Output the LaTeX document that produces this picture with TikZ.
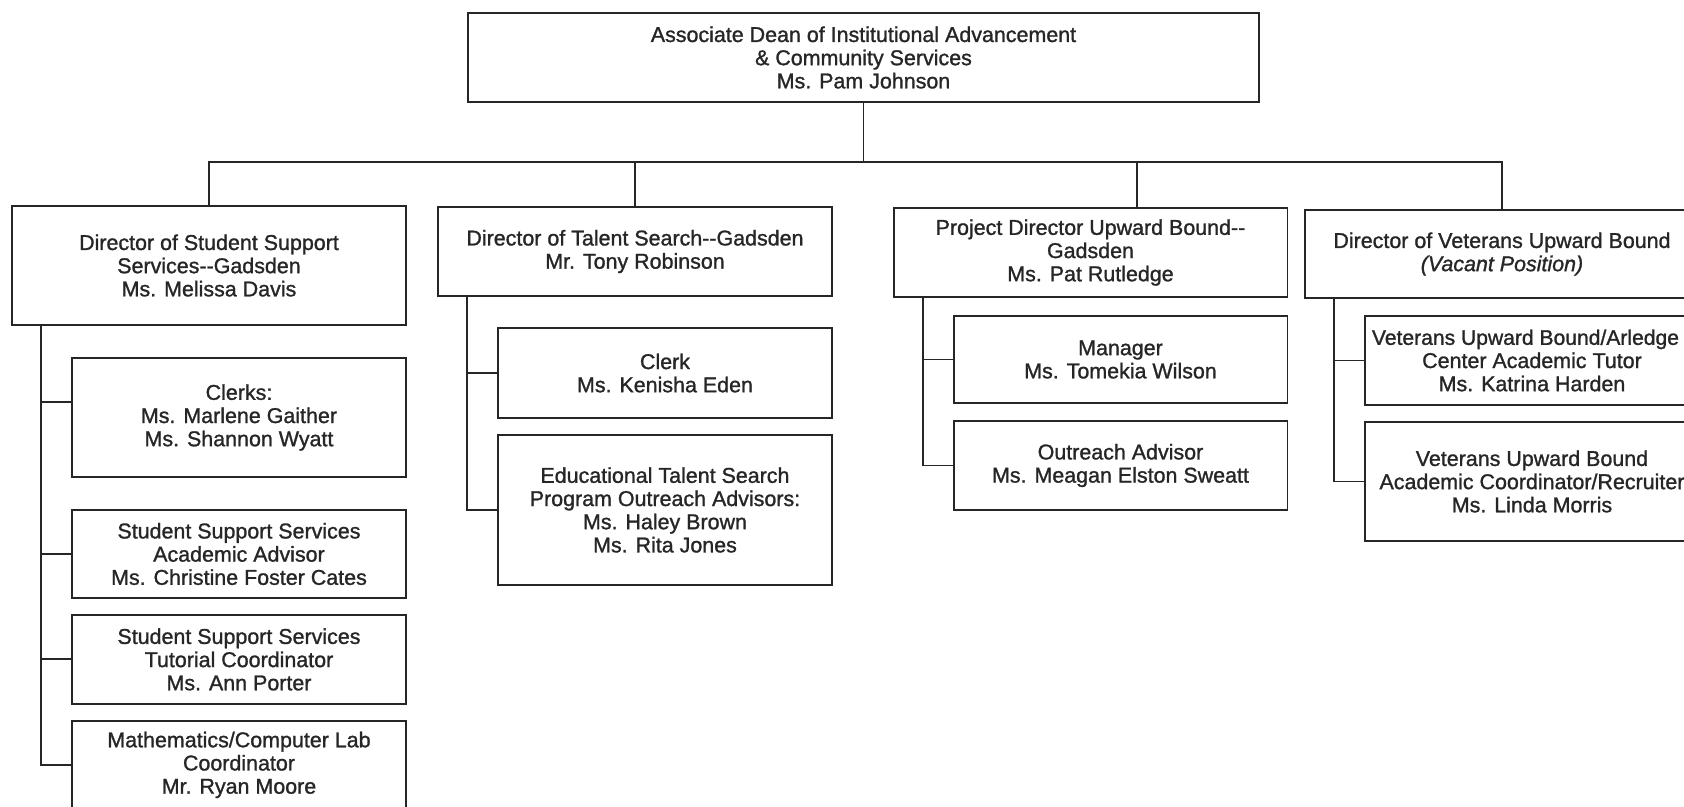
\documentclass[tikz,border=0pt]{standalone}
\usepackage{fontspec}
\setmainfont{Liberation Sans}[FakeBold=1.2]
\usetikzlibrary{positioning}
\tikzstyle{box} = [rectangle, draw=black!85, line width=1.1pt, text=black!85, align=center, inner sep=2pt, font=\fontsize{12.2}{13.2}\selectfont]
\tikzstyle{head} = [box, minimum width=7.88cm]
\tikzstyle{staff} = [box, minimum width=6.68cm, xshift=0.6cm]
\tikzstyle{link} = [draw=black!85, line width=1.1pt]

\begin{document}
\begin{tikzpicture}[x=0.02cm, y=-0.02cm, node distance=2.1cm]
      \useasboundingbox (0,0) rectangle (1684,806);
      \node (dean) [box, minimum width=15.82cm, minimum height=1.78cm] at (863.5,57.5) {Associate Dean of Institutional Advancement\\\& Community Services\\Ms. Pam Johnson};
      \node (ssd) [head, minimum height=2.38cm] at (209,265.5) {Director of Student Support\\Services-{}-Gadsden\\Ms. Melissa Davis};
      \node (tsd) [head, minimum height=1.78cm] at (635,251.5) {Director of Talent Search-{}-Gadsden\\Mr. Tony Robinson};
      \node (ubd) [head, minimum height=1.78cm] at (1090.5,252.5) {Project Director Upward Bound-{}-\\Gadsden\\Ms. Pat Rutledge};
      \node (vubd) [head, minimum height=1.76cm] at (1502,254) {Director of Veterans Upward Bound\\\textit{(Vacant Position)}};

      \node (clerks) [staff, below of = ssd, node distance=3.04cm, minimum height=2.38cm] {Clerks:\\Ms. Marlene Gaither\\Ms. Shannon Wyatt};
      \node (sssadv) [staff, below of = clerks, node distance=2.73cm, xshift=-0.6cm, minimum height=1.76cm] {Student Support Services\\Academic Advisor\\Ms. Christine Foster Cates};
      \node (tutor) [staff, below of = sssadv, node distance=2.11cm, xshift=-0.6cm, minimum height=1.78cm] {Student Support Services\\Tutorial Coordinator\\Ms. Ann Porter};
      \node (mathlab) [staff, below of = tutor, node distance=2.11cm, xshift=-0.6cm, minimum height=1.76cm] {Mathematics/Computer Lab\\Coordinator\\Mr. Ryan Moore};

      \node (tsclerk) [staff, below of = tsd, node distance=2.43cm, minimum height=1.8cm] {Clerk\\Ms. Kenisha Eden};
      \node (etsadv) [staff, below of = tsclerk, node distance=2.74cm, xshift=-0.6cm, minimum height=3cm] {Educational Talent Search\\Program Outreach Advisors:\\Ms. Haley Brown\\Ms. Rita Jones};

      \node (ubmgr) [staff, below of = ubd, node distance=2.14cm, minimum height=1.74cm] {Manager\\Ms. Tomekia Wilson};
      \node (ubout) [staff, below of = ubmgr, node distance=2.12cm, xshift=-0.6cm, minimum height=1.78cm] {Outreach Advisor\\Ms. Meagan Elston Sweatt};

      \node (vubtutor) [staff, below of = vubd, node distance=2.13cm, minimum height=1.78cm] {\makebox[0pt]{\fontsize{12}{13.2}\selectfont\hspace*{-0.26cm}Veterans Upward Bound/Arledge}\\Center Academic Tutor\\Ms. Katrina Harden};
      \node (vubcoord) [staff, below of = vubtutor, node distance=2.42cm, xshift=-0.6cm, minimum height=2.38cm] {Veterans Upward Bound\\Academic Coordinator/Recruiter\\Ms. Linda Morris};

      % top level
      \coordinate (bus) at (863.5,162);
      \coordinate (ubstem) at ([xshift=0.93cm]ubd.north);
      \draw[link] (dean) -- (bus);
      \draw[link] (ssd.north) |- (bus);
      \draw[link] (vubd.north) |- (bus);
      \draw[link] (tsd.north) -- (tsd.north |- bus);
      \draw[link] (ubstem) -- (ubstem |- bus);

      % staff lines
      \draw[link] ([xshift=0.6cm]ssd.south west) |- ([yshift=0.31cm]clerks.west);
      \draw[link] ([xshift=0.6cm]ssd.south west) |- (sssadv.west);
      \draw[link] ([xshift=0.6cm]ssd.south west) |- (tutor.west);
      \draw[link] ([xshift=0.6cm]ssd.south west) |- (mathlab.west);
      \draw[link] ([xshift=0.6cm]tsd.south west) |- (tsclerk.west);
      \draw[link] ([xshift=0.6cm]tsd.south west) |- (etsadv.west);
      \draw[link] ([xshift=0.6cm]ubd.south west) |- (ubmgr.west);
      \draw[link] ([xshift=0.6cm]ubd.south west) |- (ubout.west);
      \draw[link] ([xshift=0.6cm]vubd.south west) |- (vubtutor.west);
      \draw[link] ([xshift=0.6cm]vubd.south west) |- (vubcoord.west);
\end{tikzpicture}
\end{document}
